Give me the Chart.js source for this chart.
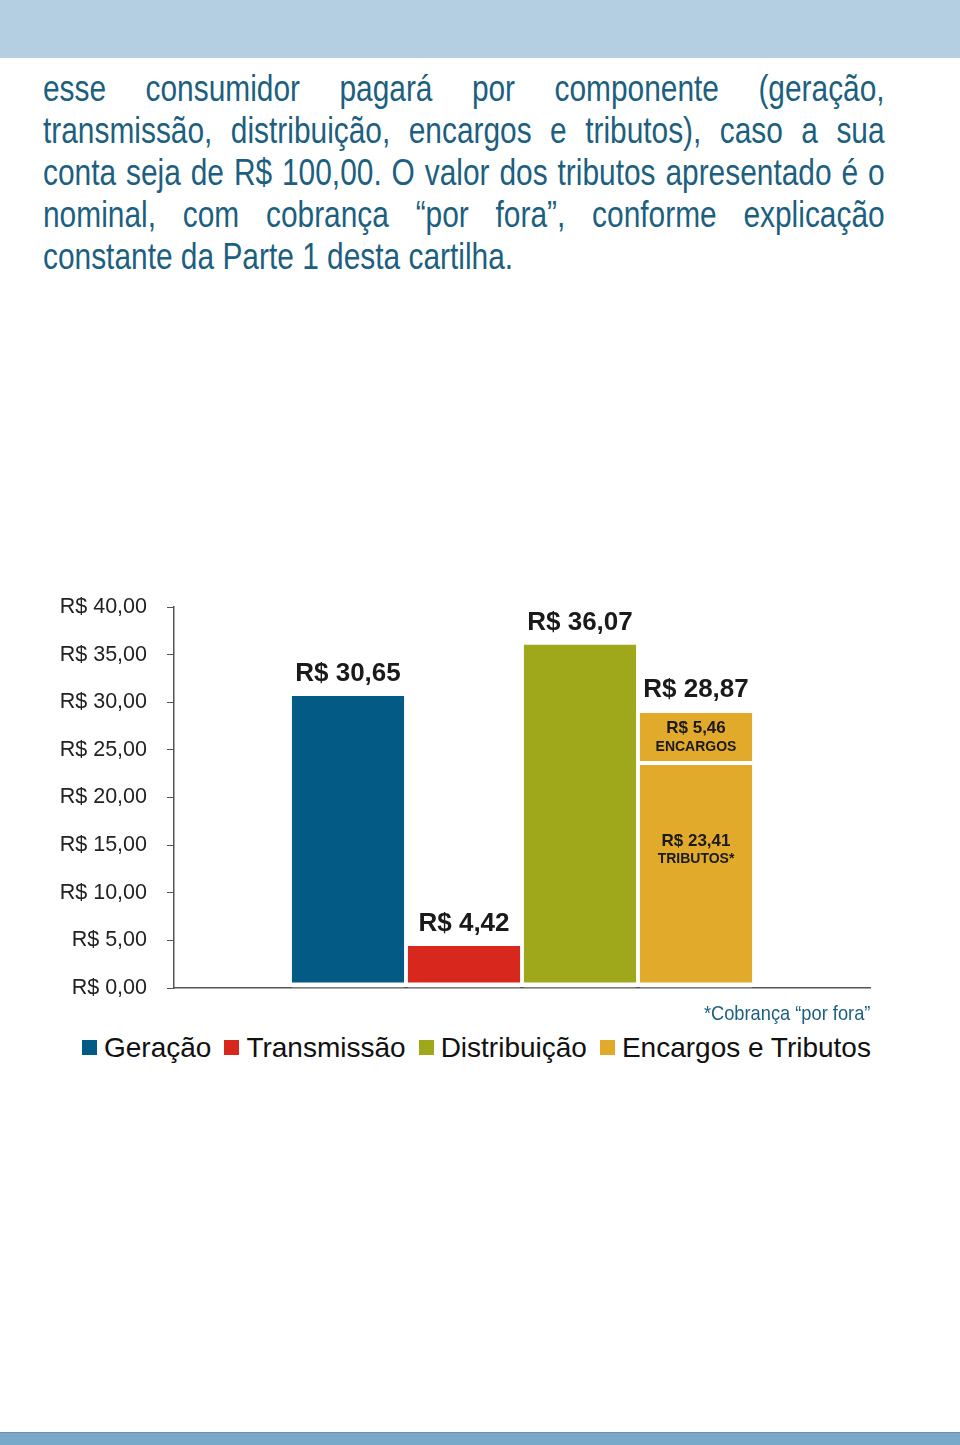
<!DOCTYPE html>
<html>
<head>
<meta charset="utf-8">
<script src="https://cdn.jsdelivr.net/npm/chart.js@4"></script>
<style>
  html, body { margin: 0; padding: 0; background: #fff; }
  body { width: 960px; height: 1445px; position: relative; overflow: hidden; }
  .topband { position: absolute; left: 0; top: 0; width: 960px; height: 58px; background: #b4cfe2; }
  .bottomband { position: absolute; left: 0; top: 1432px; width: 960px; height: 13px; background: #78a9c8; border-top: 1px solid #6a93ad; }
  .para {
    position: absolute; left: 43px; top: 68px; width: 1014px;
    transform: scaleX(0.83); transform-origin: left top;
    font-family: "Liberation Sans", Arial, sans-serif;
    font-size: 36px; line-height: 42px; color: #1d5f80;
  }
  .para div { text-align: justify; text-align-last: justify; }
  .para div.last { text-align: left; text-align-last: left; white-space: nowrap; }
  #wrap { position: absolute; left: 0; top: 570px; width: 960px; height: 451px; }
  .note {
    position: absolute; right: 90px; top: 1001px;
    transform: scaleX(0.87); transform-origin: right top;
    font-family: "Liberation Sans", Arial, sans-serif;
    font-size: 21px; color: #1d5f80; white-space: nowrap;
  }
  .legend {
    position: absolute; left: 82px; top: 1032px; width: 860px;
    font-family: "Liberation Sans", Arial, sans-serif; font-size: 28px; color: #111;
    white-space: nowrap;
  }
  .legend span.sw { display: inline-block; width: 15px; height: 15px; margin: 0 7px 0 0; vertical-align: 2px; }
  .legend span.item { margin-right: 13px; }
</style>
</head>
<body>
<div class="topband"></div>
<div class="para">
  <div>esse consumidor pagará por componente (geração,</div>
  <div>transmissão, distribuição, encargos e tributos), caso a sua</div>
  <div>conta seja de R$ 100,00. O valor dos tributos apresentado é o</div>
  <div>nominal, com cobrança “por fora”, conforme explicação</div>
  <div class="last">constante da Parte 1 desta cartilha.</div>
</div>
<div id="wrap"><canvas id="chart"></canvas></div>
<div class="note">*Cobrança “por fora”</div>
<div class="legend" id="legend"></div>
<div class="bottomband"></div>
<script>
// ---------------- DATA ----------------
const categories = ["", "Geração", "Transmissão", "Distribuição", "Encargos e Tributos", ""];
const componentValues = [null, 30.65, 4.42, 36.07, null, null];
const tributosValues = [null, null, null, null, 23.41, null];
const encargosValues = [null, null, null, null, 5.46, null];
const encargosTributosTotal = 28.87;
const yTicks = [0, 5, 10, 15, 20, 25, 30, 35, 40];
const legendLabels = ["Geração", "Transmissão", "Distribuição", "Encargos e Tributos"];

const colors = ["#035a85", "#d8281d", "#9fa71a", "#e2aa2b"];
const barColors = [null, colors[0], colors[1], colors[2], null, null];

function brl(v) {
  return "R$ " + v.toFixed(2).replace(".", ",");
}

// ---------------- LEGEND ----------------
document.getElementById("legend").innerHTML = legendLabels
  .map((l, i) => `<span class="item"><span class="sw" style="background:${colors[i]}"></span>${l}</span>`)
  .join("");

// ---------------- LABELS PLUGIN ----------------
const labelPlugin = {
  id: "labels",
  afterDatasetsDraw(chart) {
    const ctx = chart.ctx;
    ctx.save();
    ctx.fillStyle = "#1a1a1a";
    ctx.textAlign = "center";
    ctx.textBaseline = "middle";

    // value above the single bars
    const m0 = chart.getDatasetMeta(0);
    m0.data.forEach((bar, i) => {
      const v = componentValues[i];
      if (v == null) return;
      ctx.font = "bold 26px 'Liberation Sans', Arial, sans-serif";
      ctx.fillText(brl(v), bar.x, bar.y - 22);
    });

    // stacked bar
    const tb = chart.getDatasetMeta(1).data[4];
    const eb = chart.getDatasetMeta(2).data[4];
    ctx.font = "bold 26px 'Liberation Sans', Arial, sans-serif";
    ctx.fillText(brl(encargosTributosTotal), eb.x, eb.y - 23);

    ctx.font = "bold 17px 'Liberation Sans', Arial, sans-serif";
    ctx.fillText(brl(encargosValues[4]), eb.x, eb.y + 15);
    ctx.font = "bold 14px 'Liberation Sans', Arial, sans-serif";
    ctx.fillText("ENCARGOS", eb.x, eb.y + 34);

    ctx.font = "bold 17px 'Liberation Sans', Arial, sans-serif";
    ctx.fillText(brl(tributosValues[4]), tb.x, tb.y + 76);
    ctx.font = "bold 14px 'Liberation Sans', Arial, sans-serif";
    ctx.fillText("TRIBUTOS*", tb.x, tb.y + 94);
    ctx.restore();
  },
};

// ---------------- CHART ----------------
const gapBorder = { top: 0, left: 0, right: 0, bottom: 5 };

new Chart(document.getElementById("chart"), {
  type: "bar",
  data: {
    labels: categories,
    datasets: [
      {
        label: "Componentes",
        data: componentValues,
        backgroundColor: barColors,
        borderColor: "#ffffff",
        borderWidth: gapBorder,
        borderSkipped: false,
      },
      {
        label: "Tributos",
        data: tributosValues,
        backgroundColor: colors[3],
        borderColor: "#ffffff",
        borderWidth: gapBorder,
        borderSkipped: false,
      },
      {
        label: "Encargos",
        data: encargosValues,
        backgroundColor: colors[3],
        borderColor: "#ffffff",
        borderWidth: { top: 0, left: 0, right: 0, bottom: 4 },
        borderSkipped: false,
      },
    ],
  },
  options: {
    responsive: true,
    maintainAspectRatio: false,
    animation: false,
    datasets: {
      bar: { barPercentage: 0.97, categoryPercentage: 1 },
    },
    layout: { padding: { top: 37, right: 90, bottom: 12, left: 0 } },
    plugins: {
      legend: { display: false },
      tooltip: { enabled: false },
    },
    scales: {
      x: {
        stacked: true,
        ticks: { display: false },
        grid: { display: false },
        border: { display: true, color: "#555", width: 1.5 },
      },
      y: {
        stacked: true,
        min: 0,
        max: 40,
        afterBuildTicks: (s) => {
          s.ticks = yTicks.map((v) => ({ value: v }));
        },
        afterFit: (s) => {
          s.width = 174;
        },
        ticks: {
          padding: 20,
          color: "#222",
          font: { family: "'Liberation Sans', Arial, sans-serif", size: 21.5 },
          callback: (v) => brl(v),
        },
        grid: { drawOnChartArea: false, tickLength: 7, color: "#555" },
        border: { display: true, color: "#555", width: 1.5 },
      },
    },
  },
  plugins: [labelPlugin],
});
</script>
</body>
</html>
